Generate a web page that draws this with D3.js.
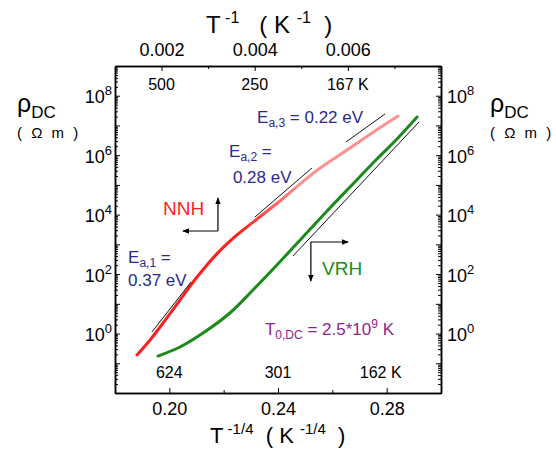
<!DOCTYPE html>
<html lang="en">
<head>
<meta charset="utf-8">
<title>rho DC vs T^-1/4</title>
<script src="https://cdn.jsdelivr.net/npm/d3@7"></script>
<style>
body { margin: 0; background: #fff; }
svg text { font-family: "Liberation Sans", Arial, sans-serif; white-space: pre; }
</style>
</head>
<body>
<script>
// values: x is T^-1/4 (K^-1/4), rho in Ohm m
var nnhX   = [0.1881, 0.1929, 0.1977, 0.2039, 0.2102, 0.2175, 0.2249, 0.2323, 0.2407, 0.2481, 0.2555, 0.2654, 0.2757, 0.2842];
var nnhRho = [0.19, 0.61, 2.26, 13.4, 79.8, 480, 2070, 7130, 28700, 1.07e5, 3.70e5, 1.49e6, 6.50e6, 2.07e7];
var vrhX   = [0.1958, 0.2039, 0.2124, 0.2223, 0.2308, 0.2396, 0.2492, 0.2591, 0.2665, 0.2764, 0.2838, 0.2912];
var vrhRho = [0.175, 0.352, 1.04, 4.91, 29.2, 202, 1770, 16700, 84900, 7.43e5, 3.49e6, 1.92e7];

// straight fit lines [x, rho]
var fitEa1 = [[0.1936, 1.13], [0.2080, 54]];
var fitEa2 = [[0.2315, 8320], [0.2525, 3.7e5]];
var fitEa3 = [[0.2650, 2.77e6], [0.2794, 2.43e7]];
var fitVrh = [[0.2455, 406], [0.2919, 1.30e7]];

// arrows: corner, then the two ends
var nnhArrow = [[0.2179, 2810], [0.2179, 36200], [0.2050, 2810]];
var vrhArrow = [[0.2521, 1200], [0.2658, 1200], [0.2521, 58.5]];

var bottomTicks = [0.20, 0.24, 0.28];
var bottomMinor = [0.18, 0.22, 0.26, 0.30];
var bottomTempLabels = ["624", "301", "162 K"];
var topTicks = [0.002, 0.004, 0.006];
var topMinor = [0.001, 0.003, 0.005, 0.007, 0.008];
var topTempLabels = ["500", "250", "167 K"];
var yExponents = d3.range(-2, 10);
var yLabelExponents = [0, 2, 4, 6, 8];

var W = 556, H = 450;
var margin = {top: 66, right: 115, bottom: 57, left: 115};
var w = W - margin.left - margin.right;
var h = H - margin.top - margin.bottom;

var svg = d3.select("body").append("svg")
    .attr("width", W)
    .attr("height", H);

var g = svg.append("g").attr("transform", "translate(" + margin.left + "," + margin.top + ")");

var x = d3.scaleLinear().domain([0.18, 0.30]).range([0, w]);
var xTop = d3.scaleLinear().domain([0.001, 0.008]).range([0, w]);
var y = d3.scaleLog().domain([1e-2, 1e9]).range([h, 0]);

var decades = yExponents.map(function(e) { return Math.pow(10, e); });
var yMinor = [];
yExponents.slice(0, -1).forEach(function(e) {
    for (var k = 2; k < 10; k++) yMinor.push(k * Math.pow(10, e));
});

// gradient: the high-T part of the NNH trace is solid red, the low-T part pale
var defs = svg.append("defs");
var grad = defs.append("linearGradient")
    .attr("id", "nnhGrad")
    .attr("gradientUnits", "userSpaceOnUse")
    .attr("x1", x(0.226)).attr("x2", x(0.248))
    .attr("y1", 0).attr("y2", 0);
grad.append("stop").attr("offset", 0).attr("stop-color", "#ff1e1e");
grad.append("stop").attr("offset", 1).attr("stop-color", "#ff9090");

var line = d3.line()
    .x(function(d) { return x(d[0]); })
    .y(function(d) { return y(d[1]); })
    .curve(d3.curveCatmullRom.alpha(0.5));

g.append("path")
    .datum(d3.zip(vrhX, vrhRho))
    .attr("fill", "none")
    .attr("stroke", "#1b8a1b")
    .attr("stroke-width", 3)
    .attr("stroke-linecap", "round")
    .attr("d", line);

g.append("path")
    .datum(d3.zip(nnhX, nnhRho))
    .attr("fill", "none")
    .attr("stroke", "url(#nnhGrad)")
    .attr("stroke-width", 3)
    .attr("stroke-linecap", "round")
    .attr("d", line);

var straight = d3.line()
    .x(function(d) { return x(d[0]); })
    .y(function(d) { return y(d[1]); });

g.selectAll(".fit")
    .data([fitEa1, fitEa2, fitEa3, fitVrh])
    .enter().append("path")
    .attr("class", "fit")
    .attr("fill", "none")
    .attr("stroke", "#111")
    .attr("stroke-width", 1)
    .attr("d", straight);

// arrows
defs.append("marker")
    .attr("id", "head")
    .attr("viewBox", "0 0 10 10")
    .attr("refX", 9).attr("refY", 5)
    .attr("markerWidth", 7).attr("markerHeight", 7)
    .attr("markerUnits", "userSpaceOnUse")
    .attr("orient", "auto")
  .append("path")
    .attr("d", "M0,1 L10,5 L0,9 Z")
    .attr("fill", "#000");

[nnhArrow, vrhArrow].forEach(function(a) {
    [a[1], a[2]].forEach(function(end) {
        g.append("line")
            .attr("x1", x(a[0][0])).attr("y1", y(a[0][1]))
            .attr("x2", x(end[0])).attr("y2", y(end[1]))
            .attr("stroke", "#000")
            .attr("stroke-width", 1.2)
            .attr("marker-end", "url(#head)");
    });
});

// axes, ticks pointing inward
function styleAxis(sel) {
    sel.selectAll(".domain").attr("stroke", "#000").attr("stroke-width", 1.5);
    sel.selectAll(".tick line").attr("stroke", "#000").attr("stroke-width", 1);
    sel.selectAll("text").attr("fill", "#000");
}

g.append("g").attr("transform", "translate(0," + h + ")")
    .call(d3.axisBottom(x).tickValues(bottomMinor).tickSize(-3).tickSizeOuter(0).tickFormat(""))
    .call(styleAxis);
g.append("g").attr("transform", "translate(0," + h + ")")
    .call(d3.axisBottom(x).tickValues(bottomTicks).tickSize(-5).tickSizeOuter(0).tickPadding(9)
        .tickFormat(d3.format(".2f")))
    .call(styleAxis)
    .selectAll("text").style("font-size", "18px");

g.append("g")
    .call(d3.axisTop(xTop).tickValues(topMinor).tickSize(-3).tickSizeOuter(0).tickFormat(""))
    .call(styleAxis);
g.append("g")
    .call(d3.axisTop(xTop).tickValues(topTicks).tickSize(-5).tickSizeOuter(0).tickPadding(10)
        .tickFormat(d3.format(".3f")))
    .call(styleAxis)
    .selectAll("text").style("font-size", "18px");

function yAxes(axisFn, side) {
    var gy = g.append("g").attr("transform", side === "left" ? null : "translate(" + w + ",0)");
    gy.append("g")
        .call(axisFn(y).tickValues(yMinor).tickSize(-3).tickSizeOuter(0).tickFormat(""))
        .call(styleAxis);
    var major = gy.append("g")
        .call(axisFn(y).tickValues(decades).tickSize(-5).tickSizeOuter(0).tickFormat(""))
        .call(styleAxis);
    major.selectAll(".tick")
        .filter(function(d) { return yLabelExponents.indexOf(Math.round(Math.log10(d))) >= 0; })
        .append("text")
        .attr("x", side === "left" ? -3 : 6)
        .attr("y", 7)
        .attr("text-anchor", side === "left" ? "end" : "start")
        .attr("fill", "#000")
        .style("font-size", "18px")
        .each(function(d) {
            var t = d3.select(this);
            t.append("tspan").text("10");
            t.append("tspan").attr("dy", -8).style("font-size", "13px")
                .text(Math.round(Math.log10(d)));
        });
}
yAxes(d3.axisLeft, "left");
yAxes(d3.axisRight, "right");

// temperature labels inside the frame
g.selectAll(".tTop")
    .data(topTicks)
    .enter().append("text")
    .attr("x", function(d) { return xTop(d); })
    .attr("y", 24)
    .attr("text-anchor", "middle")
    .style("font-size", "16px")
    .text(function(d, i) { return topTempLabels[i]; });

g.selectAll(".tBot")
    .data(bottomTicks)
    .enter().append("text")
    .attr("x", function(d, i) { return x(d) - (i === 2 ? 6 : 0); })
    .attr("y", h - 15)
    .attr("text-anchor", "middle")
    .style("font-size", "16px")
    .text(function(d, i) { return bottomTempLabels[i]; });

// text with sub/superscripts: parts = [[str, "sub"|"sup"|null], ...]
function richText(parent, px, py, parts, color, size, small) {
    var t = parent.append("text")
        .attr("x", px).attr("y", py)
        .attr("fill", color)
        .style("font-size", size + "px");
    var shift = 0;
    parts.forEach(function(p) {
        var target = p[1] === "sub" ? Math.round(size * 0.25) : p[1] === "sup" ? -Math.round(size * 0.4) : 0;
        var ts = t.append("tspan").attr("dy", target - shift).text(p[0]);
        if (p[1]) ts.style("font-size", small + "px");
        shift = target;
    });
    return t;
}

var navy = "#2a2a8e", purple = "#8e238e";

richText(g, x(0.1977), y(9700), [["NNH", null]], "#ff1e1e", 19, 19);
richText(g, x(0.2562), y(93), [["VRH", null]], "#1b8a1b", 19, 19);

richText(g, x(0.1848), y(230), [["E", null], ["a,1", "sub"], [" =", null]], navy, 17, 12);
richText(g, x(0.1848), y(40), [["0.37 eV", null]], navy, 17, 12);
richText(g, x(0.2220), y(8.67e5), [["E", null], ["a,2", "sub"], [" =", null]], navy, 17, 12);
richText(g, x(0.2234), y(1.2e5), [["0.28 eV", null]], navy, 17, 12);
richText(g, x(0.2323), y(1.21e7), [["E", null], ["a,3", "sub"], [" = 0.22 eV", null]], navy, 17, 12);
richText(g, x(0.2352), y(0.89), [["T", null], ["0,DC", "sub"], [" = 2.5*10", null], ["9", "sup"], [" K", null]], purple, 17, 12);

// axis titles
richText(svg, 206, 33, [["T", null], [" -1", "sup"], ["   ( K ", null], ["-1", "sup"], ["  )", null]], "#000", 24, 16);
richText(svg, 210, 443, [["T", null], [" -1/4", "sup"], ["  ( K ", null], ["-1/4", "sup"], ["  )", null]], "#000", 22, 15);

[[17, 112], [490, 112]].forEach(function(p) {
    richText(svg, p[0], p[1], [["\u03c1", null], ["DC", "sub"]], "#000", 25, 17);
    richText(svg, p[0], 138, [["( \u03a9 m )", null]], "#000", 15, 15)
        .style("letter-spacing", "2.5px");
});
</script>
</body>
</html>
